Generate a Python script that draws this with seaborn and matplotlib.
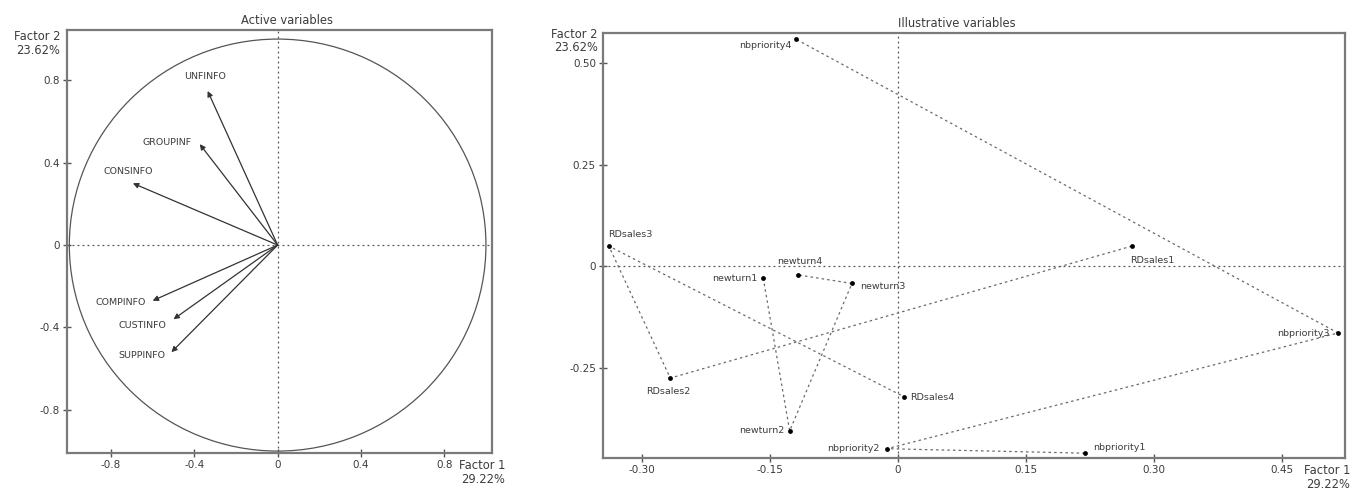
import numpy as np
import pandas as pd
import matplotlib
matplotlib.use("Agg")
import matplotlib.pyplot as plt
from matplotlib.patches import Circle
import seaborn as sns

# ---- data ---------------------------------------------------------------
activeNames = ["UNFINFO", "GROUPINF", "CONSINFO", "COMPINFO", "CUSTINFO", "SUPPINFO"]
activeX = [-0.336, -0.374, -0.695, -0.600, -0.500, -0.510]
activeY = [0.748, 0.490, 0.300, -0.270, -0.360, -0.520]

illusGroups = ["nbpriority"] * 4 + ["RDsales"] * 4 + ["newturn"] * 4
illusNames = ["nbpriority1", "nbpriority2", "nbpriority3", "nbpriority4",
              "RDsales1", "RDsales2", "RDsales3", "RDsales4",
              "newturn1", "newturn2", "newturn3", "newturn4"]
illusX = [0.219, -0.013, 0.516, -0.120,
          0.274, -0.267, -0.339, 0.007,
          -0.158, -0.127, -0.054, -0.117]
illusY = [-0.461, -0.450, -0.165, 0.559,
          0.049, -0.276, 0.049, -0.322,
          -0.030, -0.406, -0.043, -0.022]

factor1 = "Factor 1\n29.22%"
factor2 = "Factor 2\n23.62%"

# label placement (pixel offsets, alignment)
activeLabelPos = {
    "UNFINFO": (-3, 14, "center"),
    "GROUPINF": (-8, 2, "right"),
    "CONSINFO": (-5, 12, "center"),
    "COMPINFO": (-7, -2, "right"),
    "CUSTINFO": (-7, -6, "right"),
    "SUPPINFO": (-6, -3, "right"),
}
illusLabelPos = {
    "nbpriority4": (-4, -6, "right"),
    "RDsales3": (-1, 12, "left"),
    "newturn4": (2, 13, "center"),
    "newturn1": (-6, 0, "right"),
    "newturn3": (8, -3, "left"),
    "RDsales2": (-2, -13, "center"),
    "newturn2": (-5, 0, "right"),
    "nbpriority2": (-7, 0, "right"),
    "RDsales4": (6, -1, "left"),
    "RDsales1": (-2, -14, "left"),
    "nbpriority3": (-8, 0, "right"),
    "nbpriority1": (8, 6, "left"),
}

# ---- style --------------------------------------------------------------
sns.set_style("white")
plt.rcParams["font.family"] = ["DejaVu Sans"]
textColor = "#3c3c3c"
spineColor = "#7a7a7a"
labelSize = 6.8
tickSize = 7.5
headSize = 8.3

fig = plt.figure(figsize=(13.64, 4.92), dpi=100)
axL = fig.add_axes([0.049, 0.079, 0.312, 0.860])
axR = fig.add_axes([0.442, 0.069, 0.544, 0.864])


def _styleAx(ax):
    for sp in ax.spines.values():
        sp.set_color(spineColor)
        sp.set_linewidth(1.6)
        sp.set_visible(True)
    ax.tick_params(left=True, bottom=True, direction="inout", length=6, width=1,
                   color="#555555", labelsize=tickSize, labelcolor=textColor, pad=2)
    ax.axhline(0, color="#555555", lw=0.9, ls=(0, (1.5, 2.5)), zorder=1)
    ax.axvline(0, color="#555555", lw=0.9, ls=(0, (1.5, 2.5)), zorder=1)


def _fmt(v, nd):
    if abs(v) < 1e-9:
        return "0"
    return "{:.{}f}".format(v, nd)


# ---- left: active variables --------------------------------------------
_styleAx(axL)
axL.set_xlim(-1.012, 1.031)
axL.set_ylim(-1.01, 1.044)
axL.add_patch(Circle((0, 0), 1.0, fill=False, ec="#555555", lw=0.9, zorder=2))
dfA = pd.DataFrame({"name": activeNames, "x": activeX, "y": activeY})
for row in dfA.itertuples():
    axL.annotate("", xy=(row.x, row.y), xytext=(0, 0),
                 arrowprops=dict(arrowstyle="-|>", color="#333333", lw=0.9,
                                 mutation_scale=8, shrinkA=0, shrinkB=0), zorder=3)
    dx, dy, ha = activeLabelPos[row.name]
    axL.annotate(row.name, (row.x, row.y), xytext=(dx, dy), textcoords="offset pixels",
                 ha=ha, va="center", fontsize=labelSize, color=textColor)
tL = [-0.8, -0.4, 0, 0.4, 0.8]
axL.set_xticks(tL, [_fmt(v, 1) for v in tL])
axL.set_yticks(tL, [_fmt(v, 1) for v in tL])
axL.set_title("Active variables", fontsize=headSize, color=textColor, pad=4, x=0.517)
axL.set_xlabel("")
axL.set_ylabel("")
axL.text(-0.015, 1.0, factor2, transform=axL.transAxes, ha="right", va="top",
         fontsize=headSize, color=textColor, linespacing=1.05)
axL.text(1.03, -0.015, factor1, transform=axL.transAxes, ha="right", va="top",
         fontsize=headSize, color=textColor, linespacing=1.05)

# ---- right: illustrative variables -------------------------------------
_styleAx(axR)
axR.set_xlim(-0.346, 0.524)
axR.set_ylim(-0.473, 0.574)
dfI = pd.DataFrame({"group": illusGroups, "name": illusNames, "x": illusX, "y": illusY})
sns.lineplot(ax=axR, data=dfI, x="x", y="y", units="group", estimator=None, sort=False,
             color="#6a6a6a", lw=0.9, ls=(0, (2, 2.5)), zorder=2)
sns.scatterplot(ax=axR, data=dfI, x="x", y="y", color="black", s=12,
                edgecolor="black", linewidth=0, zorder=4)
for row in dfI.itertuples():
    dx, dy, ha = illusLabelPos[row.name]
    axR.annotate(row.name, (row.x, row.y), xytext=(dx, dy), textcoords="offset pixels",
                 ha=ha, va="center", fontsize=labelSize, color=textColor)
tx = [-0.30, -0.15, 0, 0.15, 0.30, 0.45]
ty = [-0.25, 0, 0.25, 0.50]
axR.set_xticks(tx, [_fmt(v, 2) for v in tx])
axR.set_yticks(ty, [_fmt(v, 2) for v in ty])
axR.set_title("Illustrative variables", fontsize=headSize, color=textColor, pad=4, x=0.477)
axR.set_xlabel("")
axR.set_ylabel("")
axR.text(-0.007, 1.012, factor2, transform=axR.transAxes, ha="right", va="top",
         fontsize=headSize, color=textColor, linespacing=1.05)
axR.text(1.007, -0.015, factor1, transform=axR.transAxes, ha="right", va="top",
         fontsize=headSize, color=textColor, linespacing=1.05)

plt.savefig("out.png", dpi=100)
plt.close()
